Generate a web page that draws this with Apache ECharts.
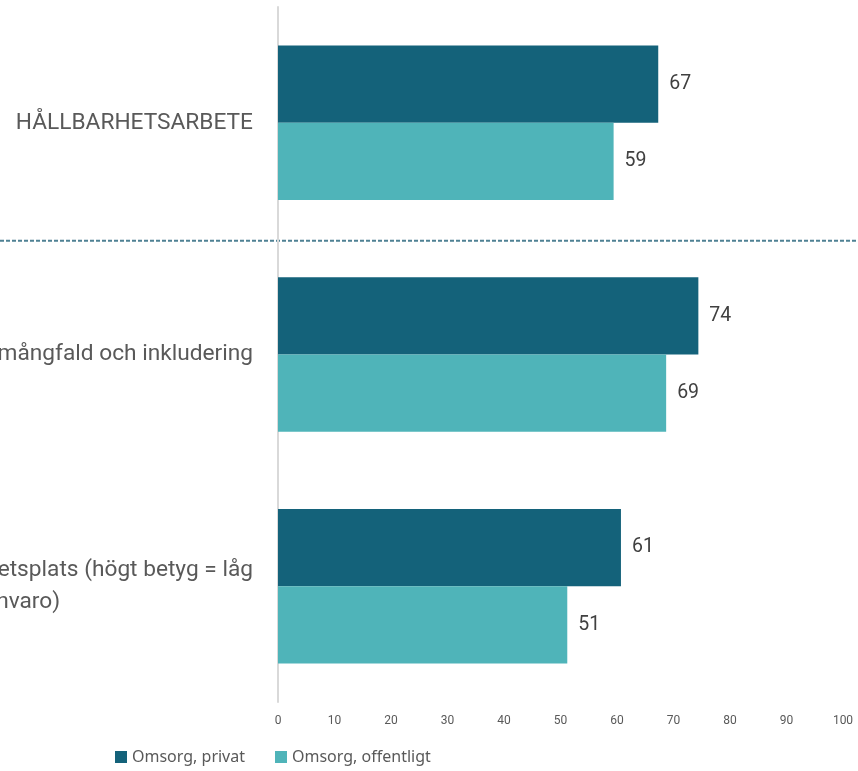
<!DOCTYPE html>
<html><head><meta charset="utf-8">
<script src="https://cdn.jsdelivr.net/npm/echarts@6/dist/echarts.min.js"></script>
<style>html,body{margin:0;padding:0;background:#fff}#c{width:858px;height:771px}</style>
</head><body><div id="c"></div><script>
const categories = ['HÅLLBARHETSARBETE', 'Arbete med mångfald och inkludering', 'Hälsosam arbetsplats (högt betyg = låg sjukfrånvaro)'];
const seriesNames = ['Omsorg, privat', 'Omsorg, offentligt'];
const privat = [67.3, 74.4, 60.7];
const offentligt = [59.4, 68.7, 51.2];
const xMin = 0, xMax = 100, xStep = 10;
const colors = ['#14627A', '#4FB4B9'];

const chart = echarts.init(document.getElementById('c'), null, {renderer: 'canvas'});
const labelFont = 'Roboto';
chart.setOption({
  animation: false,
  color: colors,
  grid: {left: 278, right: 15, top: 7, bottom: 69, containLabel: false, outerBoundsMode: 'none'},
  legend: {
    data: seriesNames, bottom: 1, left: 110, itemWidth: 12, itemHeight: 12, itemGap: 30,
    icon: 'rect',
    textStyle: {fontFamily: 'Noto Sans', fontSize: 16, color: '#595959'}
  },
  xAxis: {
    type: 'value', min: xMin, max: xMax, interval: xStep,
    axisLine: {show: false}, axisTick: {show: false}, splitLine: {show: false},
    axisLabel: {fontFamily: labelFont, fontSize: 12, color: '#595959', margin: 13}
  },
  yAxis: {
    type: 'category', data: categories, inverse: true,
    axisLine: {show: true, lineStyle: {color: '#d9d9d9', width: 2}},
    axisTick: {show: false},
    axisLabel: {
      margin: 25, color: '#595959', fontFamily: labelFont, fontSize: 22.7,
      formatter: function (v, i) {
        if (i === 2) {
          return '{a|Hälsosam arbetsplats (högt betyg = låg}\n{d|sjukfrånvaro)}';
        }
        return '{a|' + v + '}';
      },
      rich: {
        a: {fontFamily: labelFont, fontSize: 22.7, color: '#595959', lineHeight: 32},
        d: {fontFamily: labelFont, fontSize: 22.7, color: '#595959', lineHeight: 32, align: 'center', padding: [0, 122, 0, 0]}
      }
    }
  },
  series: [
    {name: seriesNames[0], type: 'bar', data: privat, barGap: '0%', barCategoryGap: '33.3%',
     label: {show: true, position: 'right', distance: 11, fontFamily: labelFont, fontSize: 19.5, color: '#404040',
       formatter: p => Math.round(p.value)}},
    {name: seriesNames[1], type: 'bar', data: offentligt, barGap: '0%', barCategoryGap: '33.3%',
     label: {show: true, position: 'right', distance: 11, fontFamily: labelFont, fontSize: 19.5, color: '#404040',
       formatter: p => Math.round(p.value)}}
  ]
});
const yA = chart.convertToPixel({yAxisIndex: 0}, categories[0]);
const yB = chart.convertToPixel({yAxisIndex: 0}, categories[1]);
const sep = (yA + yB) / 2 + 2;
chart.setOption({graphic: [{type: 'line', shape: {x1: 0, y1: sep, x2: 858, y2: sep},
  style: {stroke: '#4f8194', lineWidth: 2, lineDash: [4, 2]}}]});
</script></body></html>
